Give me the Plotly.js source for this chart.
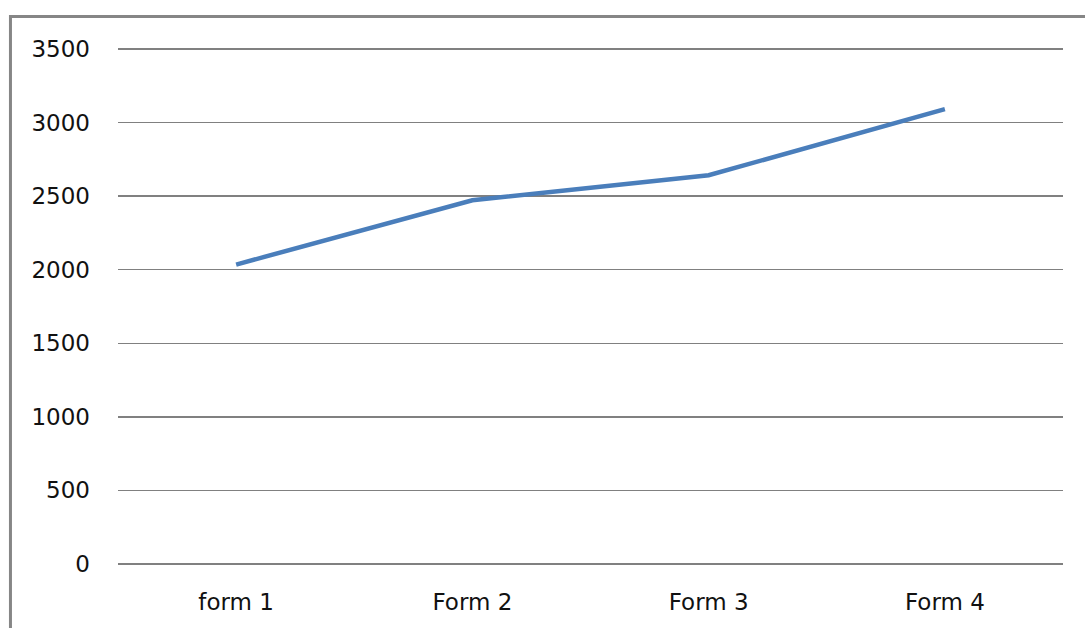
<!DOCTYPE html>
<html>
<head>
<meta charset="utf-8">
<script src="https://cdn.plot.ly/plotly-3.0.1.min.js"></script>
<style>
  html, body { margin: 0; padding: 0; background: #ffffff; }
  #chart { width: 1085px; height: 628px; }
</style>
</head>
<body>
<div id="chart"></div>
<script>
// Categories and values for the single series
const categories = ["form 1", "Form 2", "Form 3", "Form 4"];
const values = [2035, 2472, 2642, 3092];
const yTicks = [0, 500, 1000, 1500, 2000, 2500, 3000, 3500];

const trace = {
  type: "scatter",
  mode: "lines",
  x: categories,
  y: values,
  line: { color: "#4a7ebb", width: 4.5 },
  hoverinfo: "x+y"
};

const font = { family: "DejaVu Sans, sans-serif", size: 23, color: "#111111" };

const layout = {
  width: 1085,
  height: 628,
  margin: { l: 118, r: 22, t: 47, b: 62, pad: 0 },
  paper_bgcolor: "#ffffff",
  plot_bgcolor: "#ffffff",
  showlegend: false,
  font: font,
  xaxis: {
    type: "category",
    range: [-0.5, 3.5],
    showgrid: false,
    zeroline: false,
    showline: false,
    ticks: "",
    ticklabelstandoff: 20,
    tickfont: font
  },
  yaxis: {
    // a little padding so the 0 and 3500 gridlines are drawn too
    range: [-14, 3514],
    tickvals: yTicks,
    ticktext: yTicks.map(String),
    showgrid: true,
    gridcolor: "#808080",
    gridwidth: 1.5,
    zeroline: false,
    showline: false,
    ticks: "",
    ticklabelstandoff: 27,
    tickfont: font
  },
  shapes: [
    // outer chart frame
    {
      type: "rect",
      xref: "paper", yref: "paper",
      x0: -0.1138, x1: 1.2,
      y0: -0.3, y1: 1.0587,
      line: { color: "#868686", width: 3 },
      fillcolor: "rgba(0,0,0,0)",
      layer: "below"
    }
  ]
};

Plotly.newPlot("chart", [trace], layout, { displayModeBar: false, staticPlot: true });
</script>
</body>
</html>
